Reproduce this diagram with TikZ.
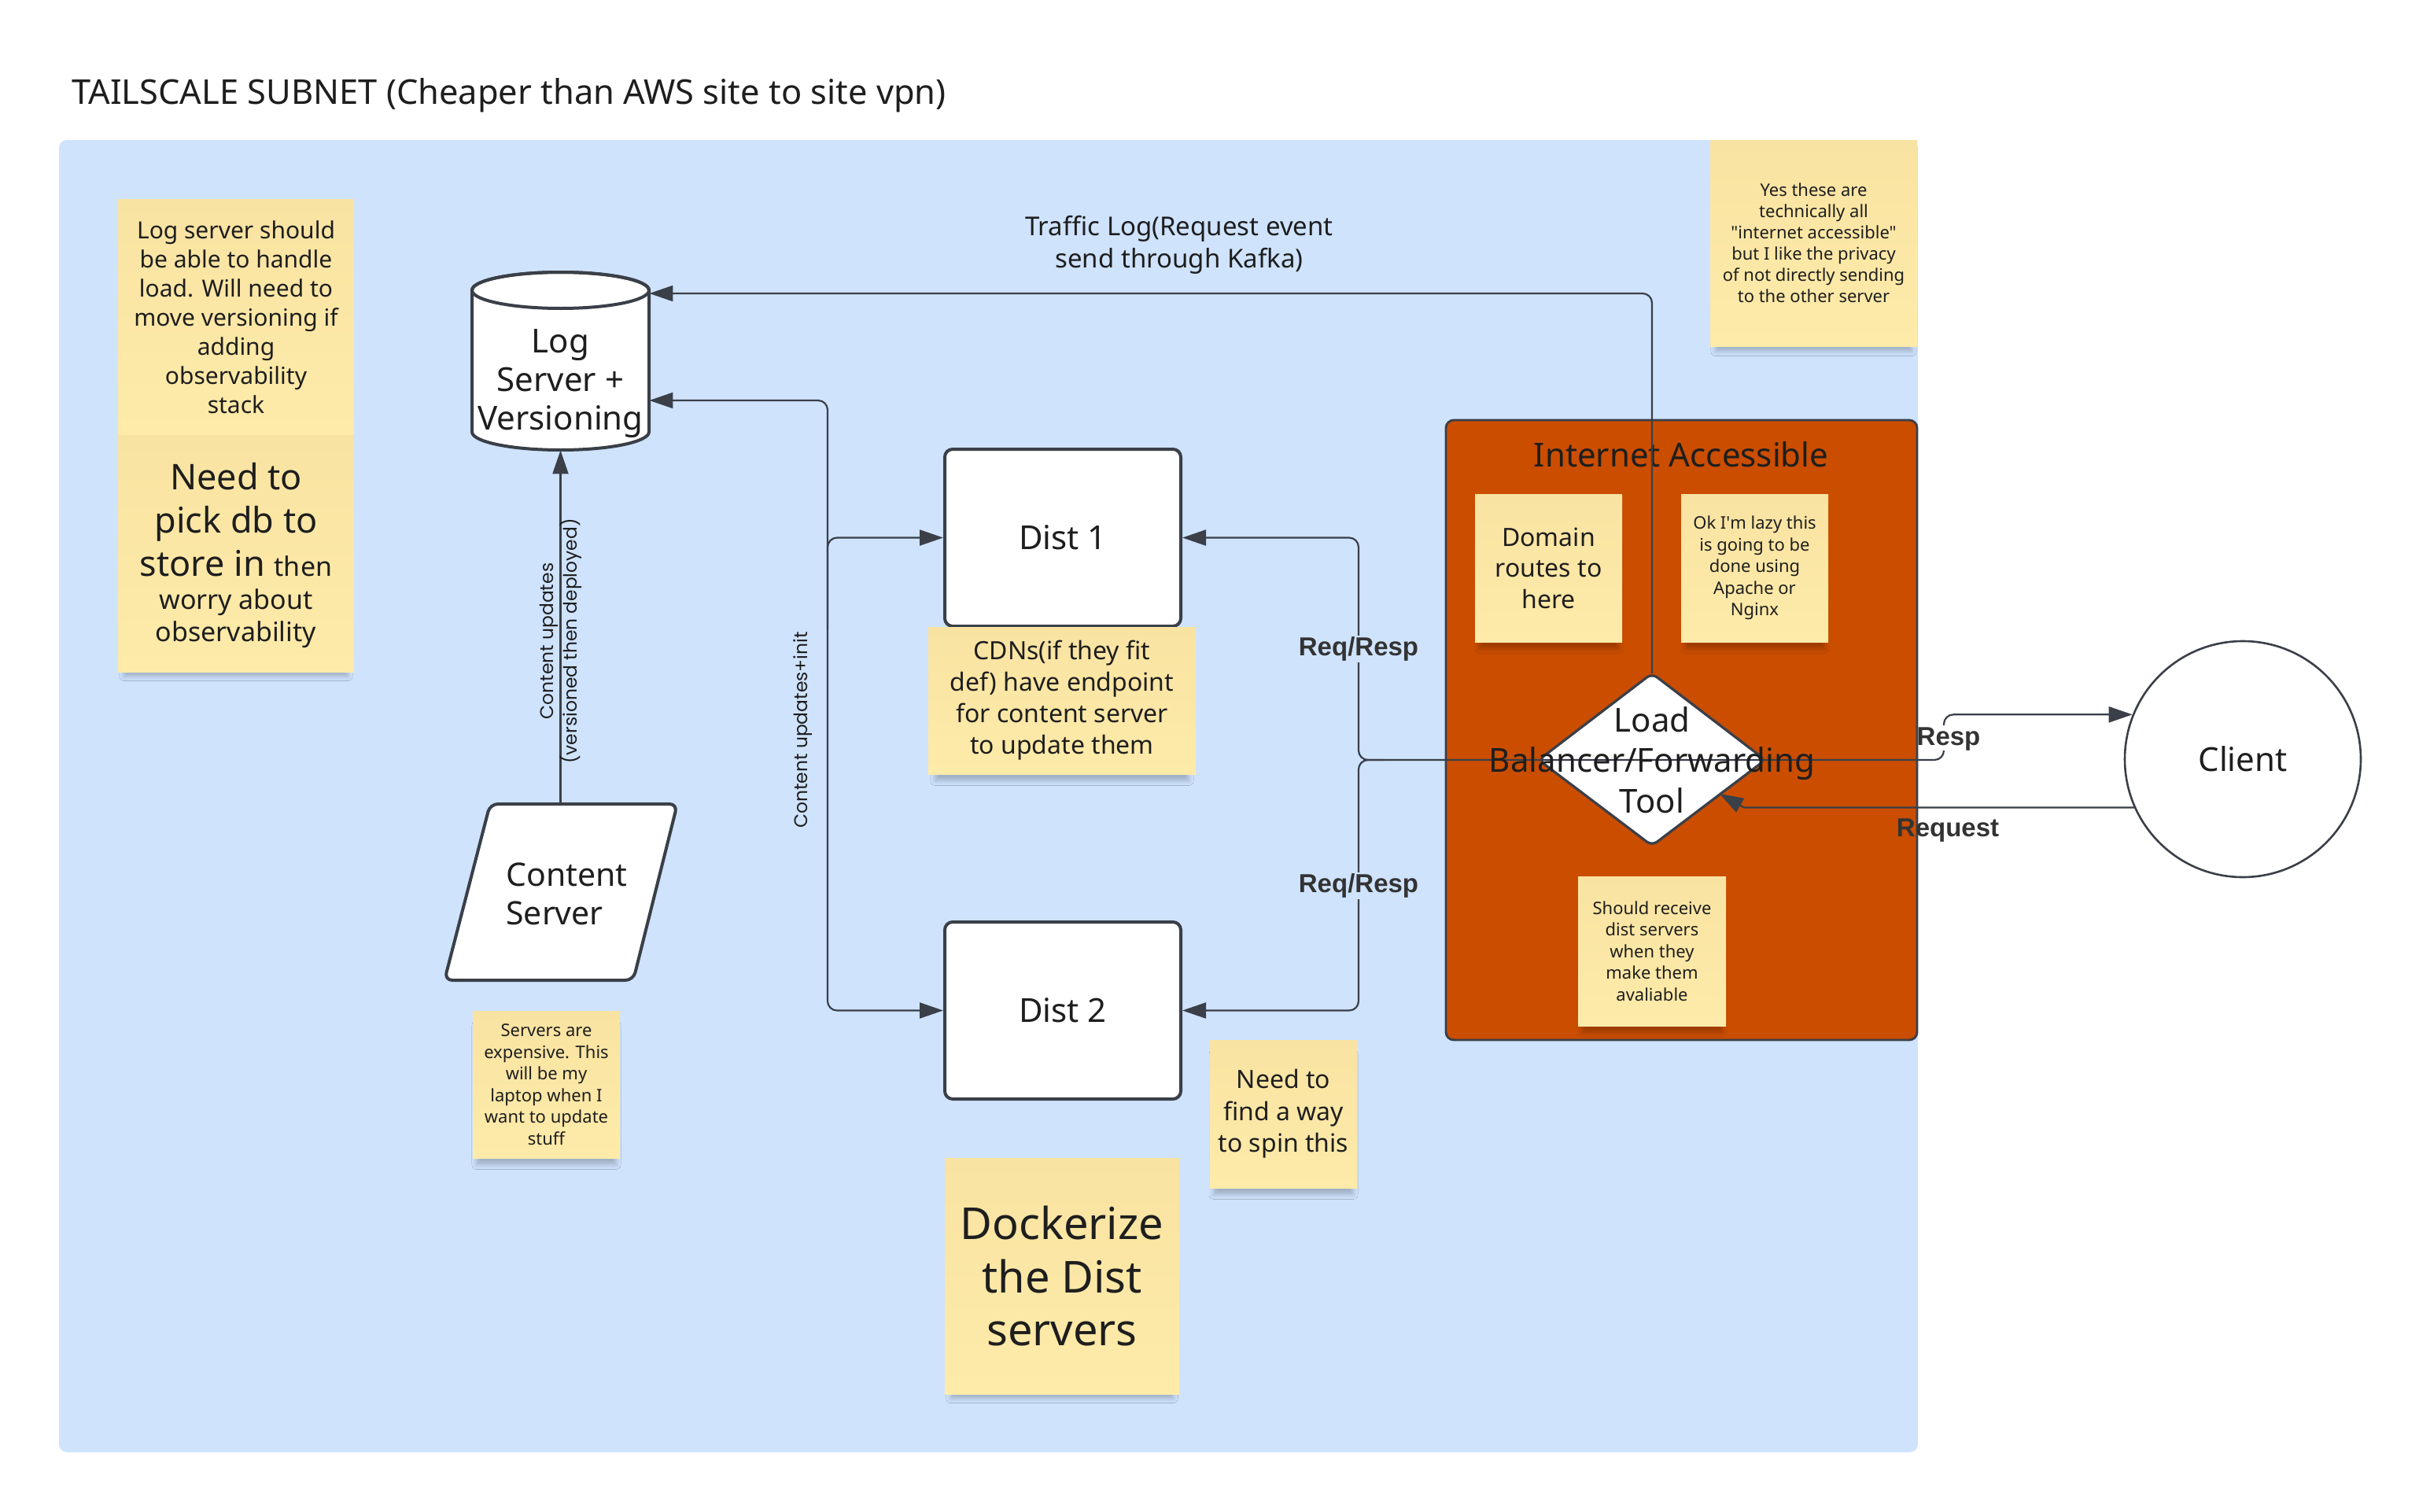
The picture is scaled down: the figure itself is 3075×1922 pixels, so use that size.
\documentclass[tikz,border=0pt]{standalone}
\usepackage{fontspec}
\setmainfont{Noto Sans}
\newfontfamily\plainfont{Noto Sans}
\newfontfamily\popfont{Poppins}
\newfontfamily\lblfont{Liberation Sans}
\usetikzlibrary{arrows.meta,shadows.blur,calc}
\definecolor{bluebg}{HTML}{CFE3FD}
\definecolor{orangebg}{HTML}{CA4D00}
\definecolor{linec}{HTML}{3A3F48}
\definecolor{stickytop}{HTML}{F9E3A2}
\definecolor{stickybot}{HTML}{FEEBA9}
\definecolor{lblc}{HTML}{333333}
\definecolor{inkc}{HTML}{1E1E1E}
\newcommand\myfs[2]{\fontsize{#1}{#2}\selectfont}
\tikzset{
  conn/.style={draw=linec, line width=1.1pt, rounded corners=6pt},
  arr/.style={-{Triangle[length=15pt,width=10pt]}},
  arrboth/.style={{Triangle[length=15pt,width=10pt]}-{Triangle[length=15pt,width=10pt]}},
  sticky/.style={top color=stickytop, bottom color=stickybot, draw=none, inner sep=2pt,
    align=center, text=inkc,
    blur shadow={shadow xshift=0pt,shadow yshift=-7pt,shadow scale=0.95,shadow blur radius=3pt,shadow opacity=22}},
  distbox/.style={rectangle, draw=linec, line width=2pt, fill=white, rounded corners=5pt,
    minimum width=150pt, minimum height=112.5pt, font=\myfs{21}{25}, text=inkc},
  bl/.style={font=\lblfont\bfseries\myfs{16.5}{19}, text=lblc, inner sep=1pt},
  txt/.style={align=center, text=inkc, inner sep=0pt},
  rotlbl/.style={rotate=90, font=\popfont\myfs{11.7}{15}, align=center, text=inkc, inner sep=0pt}
}
\begin{document}
\begin{tikzpicture}[x=0.5pt,y=-0.5pt]
\useasboundingbox (0,0) rectangle (3075,1922);
\fill[white] (0,0) rectangle (3075,1922);

% title
\node[anchor=base west, font=\myfs{21.7}{26}, text=inkc, inner sep=0pt] (title) at (91,132)
  {TAILSCALE SUBNET (Cheaper than AWS site to site vpn)};

% subnet background
\fill[bluebg, rounded corners=5pt] (75,178) rectangle (2438,1846);

% helper coordinates
\coordinate (yTraffic) at (0,373);
\coordinate (yLog2) at (0,509);
\coordinate (xBus) at (1052,0);
\coordinate (yBranch) at (0,800);
\coordinate (xRR) at (1727,0);
\coordinate (xRR2) at (1760,0);
\coordinate (xResp) at (2471,0);
\coordinate (yResp1) at (0,954);
\coordinate (yResp2) at (0,922);
\coordinate (xReq) at (2217,0);
\coordinate (reqTip) at (2186,1009);
\coordinate (csTop) at (742,1022);
\coordinate (lbT) at (2100,856);
\coordinate (lbR) at (2244,966);
\coordinate (lbB) at (2100,1075);
\coordinate (lbL) at (1956,966);

% left stickies
\node[sticky, minimum width=150pt, minimum height=150pt, font=\myfs{15}{18.5}] (slog) at (300,403)
  {Log server should\\be able to handle\\load. Will need to\\move versioning if\\adding\\observability\\stack};
\node[sticky, minimum width=150pt, minimum height=150.5pt] (sdb) at (300,703.5) {};
\node[txt, font=\myfs{22.5}{27.5}] (sdbA) at (300,661) {Need to\\pick db to\\store in {\myfs{17}{20}then}};
\node[txt, font=\myfs{17}{20.5}] (sdbB) at (300,786) {worry about\\observability};

% log server cylinder
\filldraw[fill=white, draw=linec, line width=2pt]
  (600,369) -- (600,549) arc[start angle=180, end angle=0, x radius=112.5, y radius=23]
  -- (825,369) arc[start angle=0, end angle=-180, x radius=112.5, y radius=23] -- cycle;
\draw[draw=linec, line width=2pt] (712.5,369) ellipse [x radius=112.5, y radius=23];
\node[minimum width=112.5pt, minimum height=113pt, inner sep=0pt] (logsrv) at (712.5,459) {};
\node[txt, font=\myfs{21}{24.5}] (logtxt) at (712.5,488) {Log\\Server +\\Versioning};

% traffic label
\node[txt, font=\myfs{16.5}{20.5}] (tlog) at (1499,311) {Traffic Log(Request event\\send through Kafka)};

% top right sticky
\node[sticky, minimum width=131.5pt, minimum height=131pt, font=\myfs{11}{13.5}] (syes) at (2305.5,309)
  {Yes these are\\technically all\\{\plainfont"internet accessible"}\\but I like the privacy\\of not directly sending\\to the other server};

% content server
\filldraw[fill=white, draw=linec, line width=2pt, rounded corners=5pt]
  (623,1022) -- (861,1022) -- (805,1246) -- (565,1246) -- cycle;
\node[font=\myfs{20.5}{24.5}, align=left, anchor=west, text=inkc, inner sep=0pt] (cs) at (643,1136) {Content\\Server};

\node[sticky, minimum width=93.5pt, minimum height=93.5pt, font=\myfs{11}{13.75}] (ssrv) at (694.5,1378.5)
  {Servers are\\expensive. This\\will be my\\laptop when I\\want to update\\stuff};

% dist boxes
\node[distbox] (dist1) at (1351,683.5) {Dist 1};
\node[distbox] (dist2) at (1351,1284.5) {Dist 2};

\node[sticky, minimum width=170pt, minimum height=93.5pt, font=\myfs{16}{20}] (scdn) at (1350,890.5)
  {CDNs(if they fit\\def) have endpoint\\for content server\\to update them};
\node[sticky, minimum width=93.5pt, minimum height=94pt, font=\myfs{16}{20.25}] (sneed) at (1631.5,1416)
  {Need to\\find a way\\to spin this};
\node[sticky, minimum width=149pt, minimum height=150pt, font=\myfs{28}{33.75}] (sdock) at (1350,1622)
  {Dockerize\\the Dist\\servers};

% internet accessible area
\draw[fill=orangebg, draw=linec, line width=1.4pt, rounded corners=5pt] (1838,534) rectangle (2437,1322);
\node[txt, font=\myfs{21}{25}] (inet) at (2137,578) {Internet Accessible};
\node[sticky, minimum width=93.5pt, minimum height=94pt, font=\myfs{16}{19.75}] (sdom) at (1968.5,722)
  {Domain\\routes to\\here};
\node[sticky, minimum width=93.5pt, minimum height=94pt, font=\myfs{11}{13.75}] (slazy) at (2230.5,722)
  {Ok I{\plainfont'}m lazy this\\is going to be\\done using\\Apache or\\Nginx};
\node[sticky, minimum width=94pt, minimum height=95pt, font=\myfs{11}{13.75}] (srecv) at (2100,1209)
  {Should receive\\dist servers\\when they\\make them\\avaliable};

% load balancer diamond
\filldraw[fill=white, draw=linec, line width=1.6pt, rounded corners=4pt] (lbT) -- (lbR) -- (lbB) -- (lbL) -- cycle;

% client
\node[circle, draw=linec, line width=1.3pt, fill=white, minimum size=150pt, inner sep=0pt,
  font=\myfs{21}{25}, text=inkc] (client) at (2851,965) {Client};

% connectors
\draw[conn, arr] (lbT) |- (logsrv.east |- yTraffic);
\draw[conn, arrboth] (logsrv.east |- yLog2) -| (xBus |- dist2.west) -- (dist2.west);
\draw[conn, arr] (xBus |- yBranch) |- (dist1.west);
\draw[conn, arr] (logsrv.south |- csTop) -- (logsrv.south);
\draw[conn, arr] (lbR) -- (xRR |- lbR) |- (dist1.east);
\draw[conn, arr] (xRR2 |- lbR) -- (xRR |- lbR) |- (dist2.east);
\draw[conn] (lbR) -- (xResp |- lbR) -- (xResp |- yResp1);
\draw[conn, arr] (xResp |- yResp2) -- (xResp |- client.158.5) -- (client.158.5);
\draw[conn, arr, sharp corners] (client.204.4) -- (xReq |- client.204.4) -- (reqTip);

% load balancer text (over the lines)
\node[txt, font=\myfs{21}{25.75}] (lb) at (2100,966) {Load\\Balancer/Forwarding\\Tool};

% connector labels
\node[rotlbl] (cul) at (713,815) {Content updates\\(versioned then deployed)};
\node[rotlbl] (cui) at (1021,928) {Content updates+init};
\node[bl, fill=bluebg] (rr1) at (1727,825) {Req/Resp};
\node[bl, fill=bluebg] (rr2) at (1727,1126) {Req/Resp};
\node[bl] (resp) at (2477,940) {Resp};
\node[bl] (req) at (2476,1056) {Request};
\end{tikzpicture}
\end{document}
